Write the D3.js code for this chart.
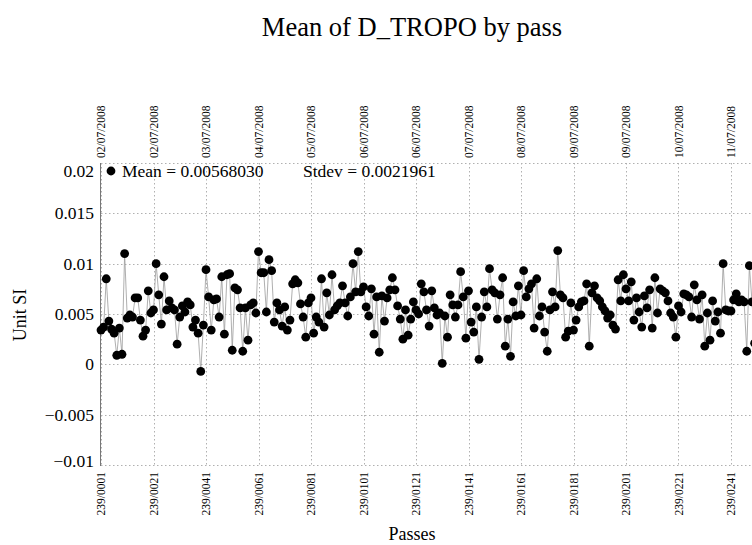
<!DOCTYPE html>
<html><head><meta charset="utf-8">
<script src="https://cdn.jsdelivr.net/npm/d3@7/dist/d3.min.js"></script>
<style>body{margin:0;background:#fff}svg{display:block}text{font-family:"Liberation Serif","DejaVu Serif",serif;fill:#000}</style>
</head><body><svg id="c" width="752" height="545"></svg>
<script>
// Mean of D_TROPO per pass (x1e-3, Unit SI), passes 239/0001 ...
const meanValues = [
3.4,3.7,8.5,4.3,3.5,3.1,0.9,3.6,1.0,11.0,
4.6,4.9,4.7,6.6,6.6,4.4,2.8,3.4,7.3,5.1,
5.4,10.0,6.9,4.0,8.7,5.4,6.3,5.6,5.4,2.0,
4.7,5.8,5.2,6.2,5.9,3.7,4.4,3.1,-0.7,3.9,
9.4,6.7,3.4,6.4,6.5,4.7,8.7,3.0,8.9,9.0,
1.4,7.6,7.4,5.6,1.3,5.6,2.4,5.9,6.1,5.1,
11.2,9.1,9.1,5.2,10.4,9.3,4.2,6.1,5.4,3.8,
5.7,3.4,4.4,8.0,8.4,8.1,6.0,4.7,2.7,6.1,
6.6,3.1,4.7,4.2,8.5,3.7,7.1,4.9,8.9,5.4,
5.8,6.1,7.8,6.1,4.8,6.7,10.0,7.2,11.2,7.2,
7.7,5.7,4.8,7.5,3.0,6.7,1.2,6.8,4.3,6.6,
7.4,8.6,7.4,5.8,4.5,2.5,5.4,2.9,4.5,6.2,
5.4,5.0,8.0,7.2,5.4,3.8,7.3,5.6,4.9,5.1,
0.1,4.8,2.7,6.9,5.9,4.7,5.9,9.2,6.7,2.6,
7.3,4.2,3.2,5.7,0.5,4.7,7.2,5.7,9.5,7.4,
7.1,4.5,6.9,8.6,1.8,4.5,0.8,6.2,4.8,7.8,
4.9,9.3,6.7,7.5,8.0,3.6,8.5,4.8,5.7,3.2,
1.3,5.4,7.2,5.7,11.3,6.9,6.6,2.7,3.3,6.1,
3.4,4.4,5.7,6.2,6.3,8.0,1.8,7.1,7.8,6.6,
6.3,5.7,5.3,4.6,4.9,3.9,3.5,8.4,6.3,8.9,
7.5,6.3,8.2,4.4,6.6,5.2,3.7,6.8,5.6,7.4,
3.6,8.6,5.1,7.5,7.3,7.1,6.3,5.1,4.7,2.7,
5.8,5.2,7.0,6.9,6.7,4.7,7.9,6.4,4.5,6.9,
1.8,5.1,2.4,6.3,4.3,5.2,3.1,10.0,5.4,5.3,
5.3,6.4,7.0,6.2,6.4,6.2,1.3,9.8,6.2,2.1
].map(v => v / 1000);
const passNumbers = meanValues.map((_, i) => i + 1);
const bottomTickPasses = [1,21,41,61,81,101,121,141,161,181,201,221,241];
const bottomTickLabels = ["239/0001","239/0021","239/0041","239/0061","239/0081","239/0101","239/0121","239/0141","239/0161","239/0181","239/0201","239/0221","239/0241"];
const topTickLabels = ["02/07/2008","02/07/2008","03/07/2008","04/07/2008","05/07/2008","06/07/2008","06/07/2008","07/07/2008","08/07/2008","09/07/2008","09/07/2008","10/07/2008","11/07/2008"];
const yTicks = [-0.01,-0.005,0,0.005,0.01,0.015,0.02];
const yTickLabels = ["\u22120.01","\u22120.005","0","0.005","0.01","0.015","0.02"];
const titleText = "Mean of D_TROPO by pass";
const legendMean = "Mean = 0.00568030";
const legendStdev = "Stdev = 0.0021961";

const svg = d3.select("#c");
const L = 101, T = 163, B = 465, R = 752;
const x = d3.scaleLinear().domain([1, 241]).range([101, 731]);
const y = d3.scaleLinear().domain([-0.01, 0.02]).range([B, T]);

const grid = svg.append("g").attr("stroke", "#b0b0b0").attr("stroke-width", 1).attr("stroke-dasharray", "1.5,2.5");
grid.selectAll("line.h").data(yTicks).join("line")
  .attr("x1", L).attr("x2", R).attr("y1", d => Math.round(y(d)) + 0.5).attr("y2", d => Math.round(y(d)) + 0.5);
grid.selectAll("line.v").data(bottomTickPasses).join("line")
  .attr("y1", T).attr("y2", B).attr("x1", d => Math.round(x(d)) + 0.5).attr("x2", d => Math.round(x(d)) + 0.5);
svg.append("line").attr("x1", L - 0.5).attr("x2", L - 0.5).attr("y1", T).attr("y2", B + 1)
  .attr("stroke", "#777").attr("stroke-width", 1);

// y labels
svg.append("g").selectAll("text").data(yTicks).join("text")
  .attr("x", 94).attr("y", d => Math.max(171, Math.min(461, y(d))))
  .attr("dy", "0.35em").attr("text-anchor", "end").attr("font-size", 17.5)
  .text((d, i) => yTickLabels[i]);

// bottom labels
svg.append("g").selectAll("text").data(bottomTickPasses).join("text")
  .attr("transform", d => `translate(${x(d)},472) rotate(-90)`)
  .attr("dy", "0.35em").attr("text-anchor", "end").attr("font-size", 11.5)
  .text((d, i) => bottomTickLabels[i]);
// top labels
svg.append("g").selectAll("text").data(bottomTickPasses).join("text")
  .attr("transform", d => `translate(${x(d)},158) rotate(-90)`)
  .attr("dy", "0.35em").attr("text-anchor", "start").attr("font-size", 11.5)
  .text((d, i) => topTickLabels[i]);

// line + points
const line = d3.line().x((d, i) => x(passNumbers[i])).y(d => y(d));
svg.append("path").datum(meanValues).attr("d", line)
  .attr("fill", "none").attr("stroke", "#9a9a9a").attr("stroke-width", 0.8);
svg.append("g").selectAll("circle").data(meanValues).join("circle")
  .attr("cx", (d, i) => x(passNumbers[i])).attr("cy", d => y(d)).attr("r", 4.4).attr("fill", "#000");

// legend
svg.append("circle").attr("cx", 111).attr("cy", 171).attr("r", 4.4).attr("fill", "#000");
svg.append("text").attr("x", 122).attr("y", 177).attr("font-size", 17.5).text(legendMean);
svg.append("text").attr("x", 303).attr("y", 177).attr("font-size", 17.5).text(legendStdev);

// titles
svg.append("text").attr("x", 412).attr("y", 36).attr("text-anchor", "middle").attr("font-size", 26.5).text(titleText);
svg.append("text").attr("x", 412).attr("y", 540).attr("text-anchor", "middle").attr("font-size", 18).text("Passes");
svg.append("text").attr("transform", "translate(26,315) rotate(-90)").attr("text-anchor", "middle").attr("font-size", 18).text("Unit SI");
</script></body></html>
